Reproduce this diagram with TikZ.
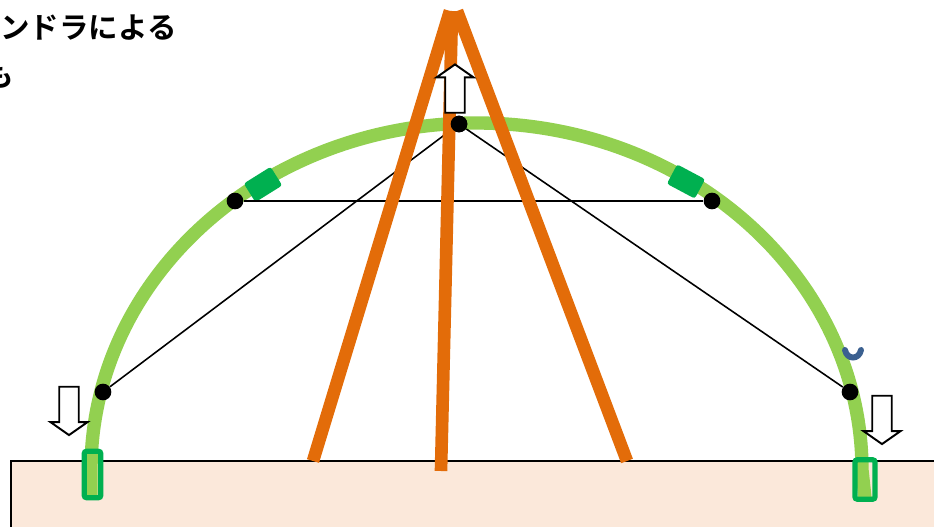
\documentclass[tikz,border=0pt]{standalone}
\usepackage{fontspec}
\usepackage{xcolor}
\setmainfont{Noto Sans CJK JP}[BoldFont={Noto Sans CJK JP Bold}]
\usetikzlibrary{
  arrows.meta,
  shapes.geometric,
  shapes.arrows,
  positioning
}
\definecolor{hwPole}{HTML}{E36C09}
\definecolor{hwArch}{HTML}{92D050}
\definecolor{hwClip}{HTML}{00B050}
\definecolor{hwSoil}{HTML}{FBE8DA}
\definecolor{hwBlue}{HTML}{3B6090}
\tikzset{
  soil/.style={draw=black, fill=hwSoil, line width=0.9pt},
  arch/.style={draw=hwArch, line width=7.6pt},
  pole/.style={draw=hwPole, line width=7.2pt},
  wire/.style={draw=black, line width=0.9pt},
  joint/.style={circle, fill=black, inner sep=0pt, minimum size=9.5pt},
  clipbox/.style={draw=hwClip, line width=3pt, rounded corners=1.5pt, inner sep=0pt},
  tab/.style={fill=hwClip, rounded corners=1.5pt, inner sep=0pt, minimum width=18pt, minimum height=12.5pt},
  pusharrow/.style={
    single arrow, draw=black, fill=white, line width=1.1pt, inner sep=0pt,
    minimum height=27.5pt, single arrow head extend=5pt,
    single arrow tip angle=110, single arrow head indent=0pt
  },
  title/.style={font=\fontsize{16.8pt}{20pt}\selectfont\bfseries, anchor=east, inner sep=0pt}
}
\begin{document}
\begin{tikzpicture}[x=0.02cm, y=-0.02cm]
  \useasboundingbox (0,0) rectangle (934,527);
  \clip (0,0) rectangle (934,527);
  % ground
  \path[soil] (11,461) rectangle (945,540);
  % arch
  \draw[arch] (91,497) -- (91,470) arc[start angle=180, end angle=360, x radius=385.5, y radius=347] -- (865,498);
  \node[clipbox, minimum width=9.5pt, minimum height=26.5pt] (clipL) at (92.5,474.5) {};
  \node[clipbox, minimum width=11.5pt, minimum height=22.5pt] (clipR) at (865,479.5) {};
  \node[tab, rotate=32] (tabL) at (263,184.5) {};
  \node[tab, rotate=-28] (tabR) at (686,181.5) {};
  % joints
  \node[joint] (jointL) at (103,392) {};
  \node[joint] (jointUL) at (235,201) {};
  \node[joint] (jointUR) at (712,201) {};
  \node[joint] (jointR) at (850,392) {};
  \node[joint] (jointT) at (459,124) {};
  \draw[wire] (jointUL) -- (jointUR);
  \draw[wire] (jointL) -- (jointT);
  \draw[wire] (jointT) -- (jointR);
  % poles
  \coordinate (apexL) at (450,11);
  \coordinate (apexC) at (452,11);
  \coordinate (apexR) at (457,11);
  \coordinate (footL) at (313,461);
  \coordinate (footC) at (441,471);
  \coordinate (footR) at (627,461);
  \foreach \foot/\apex in {footL/apexL, footR/apexR, footC/apexC}{
    \draw[pole] (\foot) -- (\apex);
  }
  \node[joint] at (jointT) {};
  % arrows
  \node[pusharrow, rotate=90] (pushT) at (455,92) {\rule{0pt}{10pt}};
  \node[pusharrow, rotate=-90] (pushL) at (69,407.5) {\rule{0pt}{10pt}};
  \node[pusharrow, rotate=-90] (pushR) at (882,416.5) {\rule{0pt}{10pt}};
  % mark
  \draw[hwBlue, line width=3.4pt, line cap=round] (845,350) .. controls (847,360) and (859,360) .. (861,350);
  % title
  \node[title] (titleA) at (177,28) {ンドラによる};
  \node[title] (titleB) at (14,75) {も};
\end{tikzpicture}
\end{document}
